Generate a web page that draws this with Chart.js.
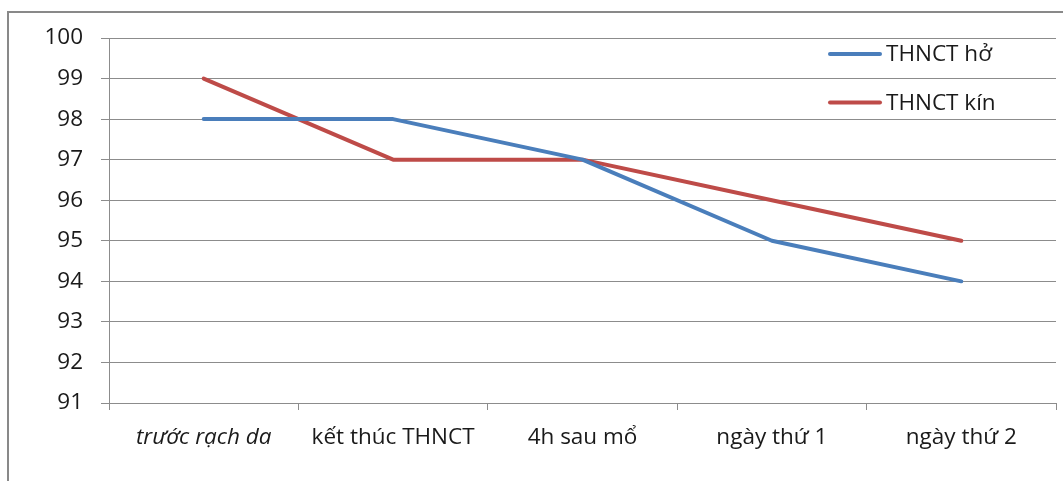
<!DOCTYPE html>
<html>
<head>
<meta charset="utf-8">
<script src="https://cdn.jsdelivr.net/npm/chart.js@4"></script>
<style>
  body { margin: 0; background: #fff; }
  #frame { position: absolute; left: 7px; top: 11px; width: 1100px; height: 500px;
           border-left: 2px solid #898989; border-top: 2px solid #898989; }
  #wrap { position: absolute; left: 0; top: 0; width: 1063px; height: 481px; }
</style>
</head>
<body>
<div id="frame"></div>
<div id="wrap"><canvas id="chart" width="1063" height="481"></canvas></div>
<script>
const categories = ["trước rạch da", "kết thúc THNCT", "4h sau mổ", "ngày thứ 1", "ngày thứ 2"];
const thnctHo = [98, 98, 97, 95, 94];
const thnctKin = [99, 97, 97, 96, 95];
const seriesNames = ["THNCT hở", "THNCT kín"];
const yMin = 91;
const yMax = 100;

const FONT = "'Open Sans', sans-serif";
const SIZE = 22.5;

// legend drawn over the plot area, top right
const innerLegend = {
  id: "innerLegend",
  afterDraw(chart) {
    const ctx = chart.ctx;
    ctx.save();
    chart.data.datasets.forEach((ds, i) => {
      const y = 54 + i * 48.5;
      ctx.strokeStyle = ds.borderColor;
      ctx.lineWidth = 4;
      ctx.lineCap = "round";
      ctx.beginPath();
      ctx.moveTo(830, y);
      ctx.lineTo(880, y);
      ctx.stroke();
      ctx.fillStyle = "#1a1a1a";
      ctx.font = SIZE + "px " + FONT;
      ctx.textBaseline = "middle";
      ctx.fillText(ds.label, 886, y + 1);
    });
    ctx.restore();
  }
};

new Chart(document.getElementById("chart"), {
  type: "line",
  data: {
    labels: categories,
    datasets: [{
      label: seriesNames[0],
      data: thnctHo,
      borderColor: "#4a7ebb",
      borderWidth: 4,
      pointRadius: 0,
      tension: 0
    }, {
      label: seriesNames[1],
      data: thnctKin,
      borderColor: "#be4b48",
      borderWidth: 4,
      pointRadius: 0,
      tension: 0
    }]
  },
  options: {
    responsive: false,
    animation: false,
    layout: { padding: { top: 38, right: 7, left: 0, bottom: 0 } },
    plugins: { legend: { display: false }, tooltip: { enabled: false } },
    elements: { line: { borderCapStyle: "round", borderJoinStyle: "round" } },
    scales: {
      x: {
        type: "category",
        offset: true,
        grid: { offset: true, drawOnChartArea: false, drawTicks: true, tickLength: 7, color: "#8c8c8c" },
        border: { color: "#8c8c8c", width: 1 },
        ticks: {
          padding: 14,
          color: "#1a1a1a",
          maxRotation: 0,
          font: (c) => ({ family: FONT, size: SIZE, style: c.index === 0 ? "italic" : "normal" })
        },
        afterFit(scale) { scale.height = 78; }
      },
      y: {
        min: yMin,
        max: yMax,
        ticks: { stepSize: 1, padding: 18, color: "#1a1a1a", font: { family: FONT, size: SIZE } },
        grid: { color: "#8c8c8c", tickLength: 8 },
        border: { color: "#8c8c8c", width: 1 },
        afterFit(scale) { scale.width = 109; }
      }
    }
  },
  plugins: [innerLegend]
});
</script>
</body>
</html>
